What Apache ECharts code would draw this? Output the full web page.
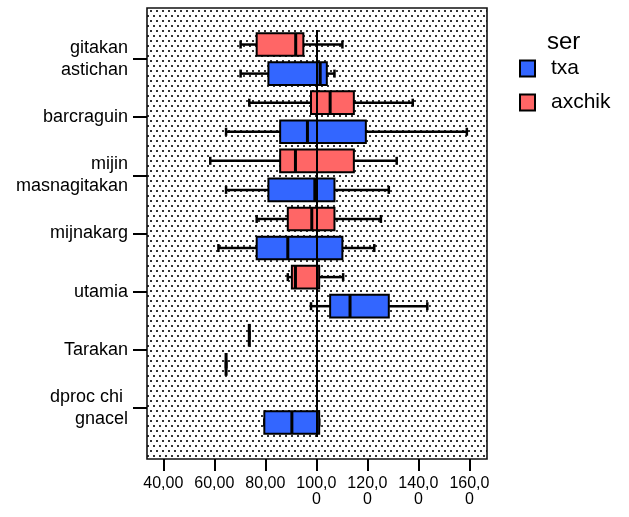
<!DOCTYPE html>
<html>
<head>
<meta charset="utf-8">
<script src="https://cdn.jsdelivr.net/npm/echarts@6/dist/echarts.min.js"></script>
<style>
html,body{margin:0;padding:0;background:#fff;}
#chart{width:629px;height:517px;}
</style>
</head>
<body>
<div id="chart"></div>
<script>
// ---- data ----
const categories = ['gitakan\nastichan', 'barcraguin', 'mijin\nmasnagitakan', 'mijnakarg', 'utamia', 'Tarakan', 'dproc chi \ngnacel'];
// [min, Q1, median, Q3, max]
const txaStats = [
  [70.3, 81.2, 101.5, 104.1, 107.1],
  [64.6, 85.8, 96.5, 119.4, 159.0],
  [64.6, 81.2, 99.4, 107.1, 128.4],
  [61.6, 76.6, 88.8, 110.2, 122.7],
  [97.9, 105.4, 113.2, 128.4, 143.5],
  [64.6, 64.6, 64.6, 64.6, 64.6],
  [79.6, 79.6, 90.4, 101.1, 101.1]
];
const axchikStats = [
  [70.3, 76.6, 91.9, 94.9, 110.2],
  [73.7, 97.9, 105.4, 114.7, 137.8],
  [58.4, 85.8, 91.8, 114.7, 131.5],
  [76.6, 88.8, 98.2, 107.1, 125.3],
  [88.8, 90.4, 91.8, 101.1, 110.5],
  [73.7, 73.7, 73.7, 73.7, 73.7],
  null
];
const xTicks = [40, 60, 80, 100, 120, 140, 160];
const referenceValue = 100;
const seriesNames = ['txa', 'axchik'];
const legendTitle = 'ser';

// ---- helpers ----
const FONT = '"Liberation Sans", Arial, Helvetica, sans-serif';
function toData(stats) {
  const out = [];
  stats.forEach((s, i) => { if (s) out.push([i].concat(s)); });
  return out;
}
function makeRender(off) {
  return function (params, api) {
    const cat = api.value(0);
    const band = api.size([0, 1])[1];
    const cy = api.coord([0, cat])[1] + off * band;
    const h = band * 0.39;
    const xs = [1, 2, 3, 4, 5].map(i => api.coord([api.value(i), cat])[0]);
    const color = api.visual('color');
    const cap = 8;
    const ls = { stroke: '#000', lineWidth: 2.5 };
    return {
      type: 'group',
      children: [
        { type: 'line', shape: { x1: xs[0], y1: cy, x2: xs[1], y2: cy }, style: ls },
        { type: 'line', shape: { x1: xs[3], y1: cy, x2: xs[4], y2: cy }, style: ls },
        { type: 'line', shape: { x1: xs[0], y1: cy - cap / 2, x2: xs[0], y2: cy + cap / 2 }, style: ls },
        { type: 'line', shape: { x1: xs[4], y1: cy - cap / 2, x2: xs[4], y2: cy + cap / 2 }, style: ls },
        { type: 'rect', shape: { x: xs[1], y: cy - h / 2, width: xs[3] - xs[1], height: h },
          style: { fill: color, stroke: '#000', lineWidth: 2 } },
        { type: 'line', shape: { x1: xs[2], y1: cy - h / 2, x2: xs[2], y2: cy + h / 2 },
          style: { stroke: '#000', lineWidth: 3 } }
      ]
    };
  };
}
function fmtTick(v) {
  const s = v.toFixed(2).replace('.', ',');
  return s.length > 5 ? s.slice(0, 5) + '\n' + s.slice(5) : s;
}

// dotted background pattern
const pc = document.createElement('canvas');
pc.width = 6; pc.height = 10;
const pctx = pc.getContext('2d');
pctx.fillStyle = '#fff';
pctx.fillRect(0, 0, 6, 10);
pctx.fillStyle = '#333';
pctx.fillRect(0, 0, 2, 2);
pctx.fillRect(3, 5, 2, 2);

const chart = echarts.init(document.getElementById('chart'), null, { renderer: 'canvas' });
chart.setOption({
  animation: false,
  backgroundColor: '#fff',
  textStyle: { fontFamily: FONT, color: '#000' },
  title: {
    text: legendTitle, left: 542, top: 25,
    textStyle: { fontFamily: FONT, fontSize: 24, fontWeight: 'normal', color: '#000' }
  },
  legend: {
    data: seriesNames,
    orient: 'vertical',
    left: 514, top: 53,
    itemWidth: 15, itemHeight: 16, itemGap: 13,
    icon: 'rect',
    itemStyle: { borderColor: '#000', borderWidth: 2 },
    textStyle: { fontFamily: FONT, fontSize: 21, color: '#000', lineHeight: 16, padding: [0, 0, 0, 11] }
  },
  graphic: [{
    type: 'rect', z: -10, silent: true,
    shape: { x: 147, y: 8, width: 340, height: 451 },
    style: { fill: { image: pc, repeat: 'repeat' }, stroke: '#111', lineWidth: 1.6 }
  }],
  grid: { left: 147, right: 142, top: 30, bottom: 80, containLabel: false },
  xAxis: {
    type: 'value', min: 33.6, max: 166.9, offset: 22,
    axisLine: { show: false },
    splitLine: { show: false },
    axisTick: { show: true, length: 12, lineStyle: { color: '#000', width: 2 }, customValues: xTicks },
    axisLabel: { customValues: xTicks, formatter: fmtTick, fontFamily: FONT, fontSize: 16, lineHeight: 16, color: '#000', margin: 17 }
  },
  yAxis: {
    type: 'category', data: categories, inverse: true,
    axisLine: { show: false },
    splitLine: { show: false },
    axisTick: { show: true, alignWithLabel: true, length: 14, lineStyle: { color: '#000', width: 2 } },
    axisLabel: { fontFamily: FONT, fontSize: 18, lineHeight: 22, color: '#000', margin: 19, align: 'right' }
  },
  series: [
    {
      name: 'txa', type: 'custom', renderItem: makeRender(0.25),
      itemStyle: { color: '#3366ff' },
      encode: { x: [1, 2, 3, 4, 5], y: 0 },
      data: toData(txaStats), z: 2
    },
    {
      name: 'axchik', type: 'custom', renderItem: makeRender(-0.25),
      itemStyle: { color: '#ff6666' },
      encode: { x: [1, 2, 3, 4, 5], y: 0 },
      data: toData(axchikStats), z: 2
    },
    {
      name: 'ref', type: 'line', data: [], z: 10,
      markLine: {
        silent: true, symbol: 'none', animation: false,
        label: { show: false },
        lineStyle: { color: '#000', width: 2, type: 'solid' },
        data: [{ xAxis: referenceValue }]
      }
    }
  ]
});
</script>
</body>
</html>
